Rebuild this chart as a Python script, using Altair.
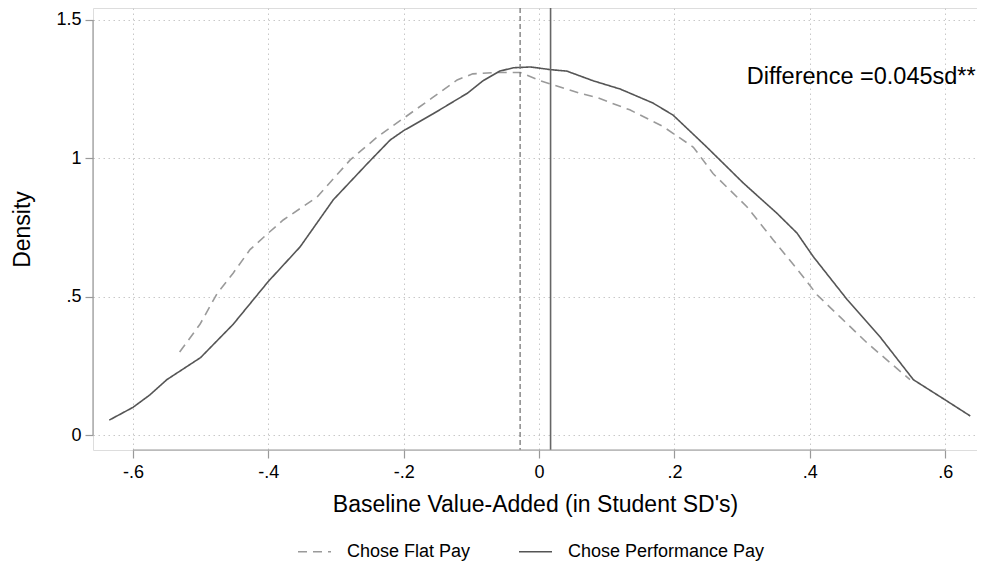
import altair as alt
import pandas as pd

# ---- data ----
perf_x = [-0.635, -0.6, -0.575, -0.55, -0.5, -0.452, -0.4, -0.353, -0.304, -0.254, -0.22, -0.2,
          -0.157, -0.106, -0.083, -0.058, -0.038, -0.013, 0.018, 0.041, 0.08, 0.12, 0.168, 0.198,
          0.248, 0.302, 0.352, 0.381, 0.405, 0.455, 0.504, 0.553, 0.6, 0.637]
perf_y = [0.054, 0.10, 0.145, 0.2, 0.28, 0.40, 0.555, 0.68, 0.85, 0.98, 1.066, 1.10,
          1.16, 1.235, 1.28, 1.315, 1.327, 1.33, 1.32, 1.315, 1.28, 1.25, 1.2, 1.156,
          1.04, 0.91, 0.80, 0.73, 0.645, 0.49, 0.354, 0.2, 0.127, 0.069]
flat_x = [-0.531, -0.501, -0.476, -0.452, -0.427, -0.4, -0.378, -0.328, -0.279, -0.239, -0.2,
          -0.157, -0.121, -0.098, -0.062, -0.028, 0.002, 0.06, 0.085, 0.134, 0.183, 0.228,
          0.257, 0.307, 0.346, 0.386, 0.411, 0.445, 0.485, 0.548]
flat_y = [0.30, 0.40, 0.51, 0.585, 0.67, 0.73, 0.777, 0.86, 0.994, 1.077, 1.145,
          1.22, 1.283, 1.305, 1.31, 1.31, 1.28, 1.235, 1.22, 1.175, 1.115, 1.04,
          0.945, 0.825, 0.705, 0.585, 0.506, 0.426, 0.332, 0.2]
series = ["Chose Flat Pay", "Chose Performance Pay"]
means = [-0.028, 0.017]
x_ticks = [-0.6, -0.4, -0.2, 0, 0.2, 0.4, 0.6]
y_ticks = [0, 0.5, 1, 1.5]
annot_text = ["Difference =0.045sd**"]
annot_x = [0.645]
annot_y = [1.294]

X_DOM = [-0.659, 0.647]
Y_DOM = [-0.054, 1.543]
FONT = "Liberation Sans"

curves = pd.DataFrame(
    {"x": flat_x + perf_x,
     "y": flat_y + perf_y,
     "s": [series[0]] * len(flat_x) + [series[1]] * len(perf_x)}
)
mean_df = pd.DataFrame({"x": means, "s": series})

xs = alt.Scale(domain=X_DOM, nice=False, zero=False)
ys = alt.Scale(domain=Y_DOM, nice=False, zero=False)

lab = ("datum.value == 0 ? '0' : datum.value == 1 ? '1' : "
       "(datum.value < 0 ? '-' : '') + replace(format(abs(datum.value), '.1f'), '0.', '.')")

legend = alt.Legend(
    title=None, orient="none", legendX=204, legendY=526, direction="horizontal",
    symbolType="stroke", symbolSize=1089, symbolStrokeWidth=1.6,
    labelOffset=15, columnPadding=44, padding=0, labelLimit=400,
)

lines = alt.Chart(curves).mark_line(strokeWidth=1.6, clip=True).encode(
    x=alt.X("x:Q", scale=xs,
            axis=alt.Axis(values=x_ticks, labelExpr=lab, domain=False, grid=True,
                          title="Baseline Value-Added (in Student SD's)")),
    y=alt.Y("y:Q", scale=ys,
            axis=alt.Axis(values=y_ticks, labelExpr=lab, domain=False, grid=True,
                          title="Density")),
    color=alt.Color("s:N", scale=alt.Scale(domain=series, range=["#9a9a9a", "#555555"]),
                    legend=legend),
    strokeDash=alt.StrokeDash("s:N", scale=alt.Scale(domain=series, range=[[9, 6], [1, 0]]),
                              legend=legend),
)

mean_rules = alt.Chart(mean_df).mark_rule().encode(
    x=alt.X("x:Q", scale=xs),
    color=alt.Color("s:N", scale=alt.Scale(domain=series, range=["#777777", "#666666"]), legend=None),
    strokeDash=alt.StrokeDash("s:N", scale=alt.Scale(domain=series, range=[[5, 3], [1, 0]]), legend=None),
    strokeWidth=alt.StrokeWidth("s:N", scale=alt.Scale(domain=series, range=[1.3, 1.6]), legend=None),
)

xdom = alt.Chart(pd.DataFrame({"a": [x_ticks[0]], "b": [x_ticks[-1]], "c": [Y_DOM[0]]})).mark_rule(
    color="#999", strokeWidth=1.2).encode(
    x=alt.X("a:Q", scale=xs), x2="b:Q", y=alt.Y("c:Q", scale=ys))
ydom = alt.Chart(pd.DataFrame({"a": [y_ticks[0]], "b": [y_ticks[-1]], "c": [X_DOM[0]]})).mark_rule(
    color="#999", strokeWidth=1.2).encode(
    y=alt.Y("a:Q", scale=ys), y2="b:Q", x=alt.X("c:Q", scale=xs))

annot = alt.Chart(pd.DataFrame({"t": annot_text, "x": annot_x, "y": annot_y})).mark_text(
    align="right", baseline="middle", fontSize=23.5, font=FONT, color="#000").encode(
    x=alt.X("x:Q", scale=xs), y=alt.Y("y:Q", scale=ys), text="t:N")

chart = alt.layer(lines, mean_rules, xdom, ydom, annot).resolve_scale(
    color="independent", strokeDash="independent"
).properties(
    width=884, height=442,
    autosize=alt.AutoSizeParams(type="none"),
    padding={"left": 85, "top": 0, "right": 0, "bottom": 115},
).configure_view(stroke=None).configure(background="white").configure_axis(
    tickSize=8, tickColor="#999", tickWidth=1.2,
    labelFontSize=18, labelFont=FONT, labelColor="#000",
    titleFontSize=23, titleFont=FONT, titleFontWeight="normal", titleColor="#000",
    gridColor="#c8c8c8", gridDash=[1.5, 3.5], gridWidth=1,
).configure_axisX(labelPadding=5, titlePadding=12).configure_axisY(
    labelPadding=4, titlePadding=21
).configure_legend(labelFontSize=18, labelFont=FONT, labelColor="#000")

chart.save("out.html", embed_options={"renderer": "svg", "actions": False})
